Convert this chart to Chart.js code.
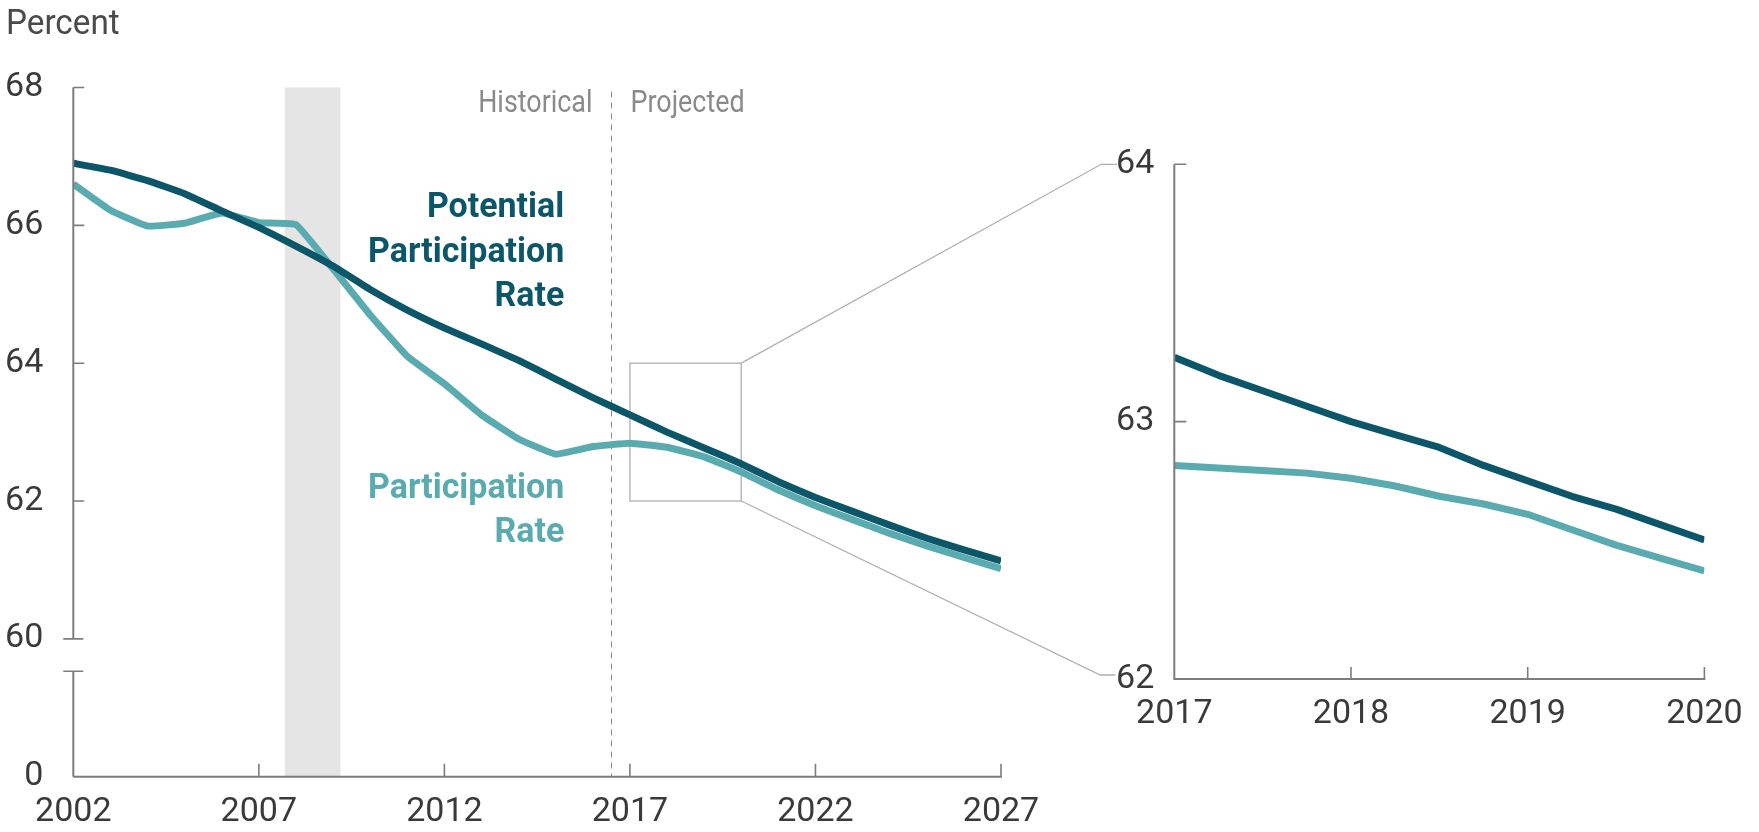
<!DOCTYPE html>
<html><head><meta charset="utf-8">
<script src="https://cdn.jsdelivr.net/npm/chart.js@4"></script>
<style>
html,body{margin:0;padding:0;background:#fff;}
#wrap{position:relative;width:1759px;height:832px;overflow:hidden;}
canvas{position:absolute;left:0;top:0;}
</style></head><body>
<div id="wrap"><canvas id="main" width="1759" height="832"></canvas><canvas id="inset" width="1759" height="832"></canvas></div>
<script>
// ---------- data ----------
const years = [2002,2003,2004,2005,2006,2007,2008,2009,2010,2011,2012,2013,2014,2015,2016,2017,2018,2019,2020,2021,2022,2023,2024,2025,2026,2027];
const potentialRate = [66.90,66.80,66.65,66.46,66.21,65.97,65.70,65.41,65.07,64.77,64.51,64.28,64.04,63.77,63.50,63.25,63.00,62.77,62.54,62.28,62.05,61.85,61.65,61.46,61.29,61.13];
const participationRate = [66.60,66.22,65.99,66.03,66.18,66.04,66.01,65.37,64.70,64.10,63.70,63.25,62.90,62.68,62.79,62.84,62.78,62.64,62.42,62.16,61.93,61.73,61.53,61.35,61.18,61.02];
const mainXTicks = [2002,2007,2012,2017,2022,2027];
const mainYTicks = [58,60,62,64,66,68];          // 58 is drawn as "0" below the axis break
const mainYTickLabels = ['0','60','62','64','66','68'];
const axisBreakValue = 59.53;
const recession = [2007.7, 2009.2];
const projectionStart = 2016.5;
const zoomBox = {x0:2017, x1:2020, y0:62, y1:64};

const insetQuarters = [2017.00,2017.25,2017.50,2017.75,2018.00,2018.25,2018.50,2018.75,2019.00,2019.25,2019.50,2019.75,2020.00];
const insetPotential = [63.25,63.18,63.12,63.06,63.00,62.95,62.90,62.83,62.77,62.71,62.66,62.60,62.54];
const insetParticipation = [62.83,62.82,62.81,62.80,62.78,62.75,62.71,62.68,62.64,62.58,62.52,62.47,62.42];
const insetXTicks = [2017,2018,2019,2020];
const insetYTicks = [62,63,64];

// ---------- styles ----------
const FONT = "Roboto,'Liberation Sans',sans-serif";
const DARK = '#0c566a';
const LIGHT = '#5aabb0';
const AXIS = '#7d7d7d';
const TXT = '#3a3a3a';
const GREY_TXT = '#8a8a8a';
const LW = 7;

function pts(xs, ys){ return xs.map((x,i)=>({x:x, y:ys[i]})); }
function drawText(ctx, text, x, y, align, sx){
  ctx.save(); ctx.translate(x, y); ctx.scale(sx, 1);
  ctx.textAlign = align; ctx.fillText(text, 0, 0); ctx.restore();
}

const mainDecor = {
  id:'mainDecor',
  beforeDatasetsDraw(chart){
    const {ctx, chartArea:a, scales:{x, y}} = chart;
    ctx.save();
    // recession shading
    ctx.fillStyle = '#e5e5e5';
    const r0 = x.getPixelForValue(recession[0]), r1 = x.getPixelForValue(recession[1]);
    ctx.fillRect(r0, a.top, r1-r0, a.bottom-a.top);
    // projection divider
    const px = Math.round(x.getPixelForValue(projectionStart))+0.5;
    ctx.strokeStyle = '#8a8a8a'; ctx.lineWidth = 1; ctx.setLineDash([6,5]);
    ctx.beginPath(); ctx.moveTo(px, a.top+4); ctx.lineTo(px, a.bottom); ctx.stroke();
    ctx.setLineDash([]);
    // zoom box
    ctx.strokeStyle = '#b9b9b9'; ctx.lineWidth = 1.5;
    const bx0 = x.getPixelForValue(zoomBox.x0), bx1 = x.getPixelForValue(zoomBox.x1);
    const by0 = y.getPixelForValue(zoomBox.y0), by1 = y.getPixelForValue(zoomBox.y1);
    ctx.strokeRect(bx0, by1, bx1-bx0, by0-by1);
    // Historical / Projected
    ctx.font = `32px ${FONT}`; ctx.fillStyle = GREY_TXT; ctx.textBaseline = 'middle';
    drawText(ctx, 'Historical', px-19, 104, 'right', 0.84);
    drawText(ctx, 'Projected', px+19, 104, 'left', 0.84);
    ctx.restore();
  },
  afterDatasetsDraw(chart){
    const {ctx, chartArea:a, scales:{x, y}} = chart;
    ctx.save();
    ctx.strokeStyle = AXIS; ctx.lineWidth = 2;
    const L = a.left;
    // y axis with break
    ctx.beginPath();
    ctx.moveTo(L, y.getPixelForValue(68)); ctx.lineTo(L, y.getPixelForValue(60));
    ctx.moveTo(L, y.getPixelForValue(axisBreakValue)); ctx.lineTo(L, a.bottom);
    ctx.stroke();
    ctx.lineWidth = 1.6;
    ctx.beginPath();
    [62,64,66,68].forEach(v=>{ const p=y.getPixelForValue(v); ctx.moveTo(L, p); ctx.lineTo(L+11, p); });
    [60, axisBreakValue].forEach(v=>{ const p=y.getPixelForValue(v); ctx.moveTo(L-10, p); ctx.lineTo(L+10, p); });
    ctx.stroke();
    // x axis
    ctx.lineWidth = 2;
    ctx.beginPath(); ctx.moveTo(L, a.bottom); ctx.lineTo(a.right+1, a.bottom); ctx.stroke();
    ctx.lineWidth = 1.6;
    ctx.beginPath();
    mainXTicks.slice(1).forEach(v=>{ const p=x.getPixelForValue(v); ctx.moveTo(p, a.bottom); ctx.lineTo(p, a.bottom-13); });
    ctx.stroke();
    // Percent
    ctx.font = `35px ${FONT}`; ctx.fillStyle = '#4a4a4a'; ctx.textBaseline='middle';
    drawText(ctx, 'Percent', 6, 25, 'left', 0.95);
    // series labels
    ctx.font = `bold 35px ${FONT}`; ctx.textBaseline = 'alphabetic';
    const lx = x.getPixelForValue(2015.23);
    ctx.fillStyle = DARK;
    drawText(ctx, 'Potential', lx, 217, 'right', 0.97);
    drawText(ctx, 'Participation', lx, 261.5, 'right', 0.97);
    drawText(ctx, 'Rate', lx, 306, 'right', 0.97);
    ctx.fillStyle = LIGHT;
    drawText(ctx, 'Participation', lx, 498, 'right', 0.97);
    drawText(ctx, 'Rate', lx, 542, 'right', 0.97);
    ctx.restore();
  }
};

const mainChart = new Chart(document.getElementById('main'), {
  type:'line',
  data:{ datasets:[
    {label:'Potential Participation Rate', data:pts(years, potentialRate), borderColor:DARK, borderWidth:LW, pointRadius:0, tension:0.1, borderJoinStyle:'round'},
    {label:'Participation Rate', data:pts(years, participationRate), borderColor:LIGHT, borderWidth:LW, pointRadius:0, tension:0.1, borderJoinStyle:'round'}
  ]},
  options:{
    responsive:false, animation:false, devicePixelRatio:1,
    layout:{padding:{left:0, top:87.5, right:758, bottom:0}},
    plugins:{legend:{display:false}, tooltip:{enabled:false}},
    scales:{
      x:{type:'linear', min:2002, max:2027,
        afterBuildTicks:s=>{ s.ticks = mainXTicks.map(v=>({value:v})); },
        afterFit:s=>{ s.height = 55.3; },
        grid:{display:false, drawTicks:false}, border:{display:false},
        ticks:{autoSkip:false, maxRotation:0, padding:15, color:TXT, font:{family:FONT, size:34}, callback:v=>String(v)}},
      y:{type:'linear', min:58, max:68,
        afterBuildTicks:s=>{ s.ticks = mainYTicks.map(v=>({value:v})); },
        afterFit:s=>{ s.width = 73.3; },
        grid:{display:false, drawTicks:false}, border:{display:false},
        ticks:{autoSkip:false, padding:30, color:TXT, font:{family:FONT, size:34}, callback:v=>mainYTickLabels[mainYTicks.indexOf(v)]}}
    }
  },
  plugins:[mainDecor]
});

const insetDecor = {
  id:'insetDecor',
  afterDatasetsDraw(chart){
    const {ctx, chartArea:a, scales:{x, y}} = chart;
    ctx.save();
    ctx.strokeStyle = AXIS; ctx.lineWidth = 2;
    ctx.beginPath();
    ctx.moveTo(a.left, a.top); ctx.lineTo(a.left, a.bottom); ctx.lineTo(a.right+1, a.bottom);
    ctx.stroke();
    ctx.lineWidth = 1.6;
    ctx.beginPath();
    [63,64].forEach(v=>{ const p=y.getPixelForValue(v); ctx.moveTo(a.left, p); ctx.lineTo(a.left+12, p); });
    insetXTicks.slice(1).forEach(v=>{ const p=x.getPixelForValue(v); ctx.moveTo(p, a.bottom); ctx.lineTo(p, a.bottom-12); });
    ctx.stroke();
    // connectors to the box in the main chart
    const mx = mainChart.scales.x, my = mainChart.scales.y;
    const cx = mx.getPixelForValue(zoomBox.x1);
    const t0 = my.getPixelForValue(zoomBox.y1), b0 = my.getPixelForValue(zoomBox.y0);
    const t1 = y.getPixelForValue(zoomBox.y1), b1 = y.getPixelForValue(zoomBox.y0) - 4;
    ctx.strokeStyle = '#b0b0b0'; ctx.lineWidth = 1.3;
    ctx.beginPath();
    ctx.moveTo(cx, t0); ctx.lineTo(a.left-73, t1); ctx.lineTo(a.left-57, t1);
    ctx.moveTo(cx, b0); ctx.lineTo(a.left-74, b1); ctx.lineTo(a.left-59, b1);
    ctx.stroke();
    ctx.restore();
  }
};

new Chart(document.getElementById('inset'), {
  type:'line',
  data:{ datasets:[
    {label:'Potential Participation Rate', data:pts(insetQuarters, insetPotential), borderColor:DARK, borderWidth:LW, pointRadius:0, tension:0, borderJoinStyle:'round'},
    {label:'Participation Rate', data:pts(insetQuarters, insetParticipation), borderColor:LIGHT, borderWidth:LW, pointRadius:0, tension:0, borderJoinStyle:'round'}
  ]},
  options:{
    responsive:false, animation:false, devicePixelRatio:1,
    layout:{padding:{left:0, top:164.3, right:54.6, bottom:0}},
    plugins:{legend:{display:false}, tooltip:{enabled:false}},
    scales:{
      x:{type:'linear', min:2017, max:2020,
        afterBuildTicks:s=>{ s.ticks = insetXTicks.map(v=>({value:v})); },
        afterFit:s=>{ s.height = 153; },
        grid:{display:false, drawTicks:false}, border:{display:false},
        ticks:{autoSkip:false, maxRotation:0, padding:15, color:TXT, font:{family:FONT, size:34}, callback:v=>String(v)}},
      y:{type:'linear', min:62, max:64,
        afterBuildTicks:s=>{ s.ticks = insetYTicks.map(v=>({value:v})); },
        afterFit:s=>{ s.width = 1174.3; },
        grid:{display:false, drawTicks:false}, border:{display:false},
        ticks:{autoSkip:false, padding:20, color:TXT, font:{family:FONT, size:34}, callback:v=>String(v)}}
    }
  },
  plugins:[insetDecor]
});
</script>
</body></html>
